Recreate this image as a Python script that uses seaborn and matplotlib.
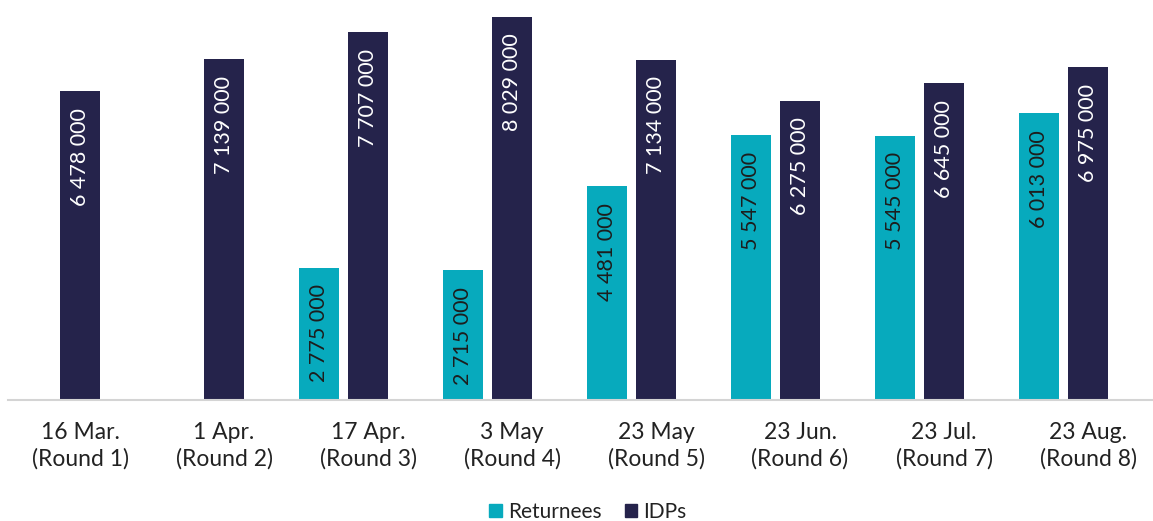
import numpy as np
import pandas as pd
import matplotlib
matplotlib.use("Agg")
import matplotlib.pyplot as plt
from matplotlib.patches import Patch
import seaborn as sns

# Values
rounds = ["16 Mar.\n(Round 1)", "1 Apr.\n(Round 2)", "17 Apr.\n(Round 3)", "3 May\n(Round 4)",
          "23 May\n(Round 5)", "23 Jun.\n(Round 6)", "23 Jul.\n(Round 7)", "23 Aug.\n(Round 8)"]
returnees = [np.nan, np.nan, 2775000, 2715000, 4481000, 5547000, 5545000, 6013000]
idps = [6478000, 7139000, 7707000, 8029000, 7134000, 6275000, 6645000, 6975000]

teal = "#07AABD"
navy = "#25234B"

# long table; a third, empty series keeps the original's spacing
df = pd.DataFrame({
    "round": rounds * 3,
    "series": ["Returnees"] * 8 + ["IDPs"] * 8 + ["_blank"] * 8,
    "value": returnees + idps + [0] * 8,
})

sns.set_style("white")
plt.rcParams["font.family"] = ["Lato", "DejaVu Sans"]

fig = plt.figure(figsize=(11.53, 5.21), dpi=100)
ax = fig.add_axes([8 / 1153, 121 / 521, 1152 / 1153, 400 / 521])

sns.barplot(data=df, x="round", y="value", hue="series",
            hue_order=["Returnees", "IDPs", "_blank"],
            palette=[teal, navy, "white"], saturation=1, width=1.02, gap=0.2,
            errorbar=None, legend=False, ax=ax, linewidth=0)

# value labels inside bar tops
for cont, txt_col in zip(ax.containers[:2], ["#1d1d1d", "white"]):
    for bar in cont:
        h = bar.get_height()
        if not np.isfinite(h) or h <= 0:
            continue
        ax.annotate(f"{int(h):,}".replace(",", " "),
                    (bar.get_x() + bar.get_width() / 2, h),
                    xytext=(0, -12), textcoords="offset points",
                    rotation=90, ha="center", va="top",
                    color=txt_col, fontsize=15.5)

ax.set_xlim(-0.5, 7.5)
ax.set_ylim(0, 400 / 47.7 * 1e6)
ax.set_xlabel("")
ax.set_ylabel("")
ax.set_yticks([])
ax.tick_params(axis="x", length=0, pad=16, labelsize=16.5, labelcolor="#222222")
for lbl in ax.get_xticklabels():
    lbl.set_linespacing(1.3)

for side in ["top", "right", "left"]:
    ax.spines[side].set_visible(False)
ax.spines["bottom"].set_color("#d4d4d4")
ax.spines["bottom"].set_linewidth(1.5)

handles = [Patch(color=teal, label="Returnees"), Patch(color=navy, label="IDPs")]
fig.legend(handles=handles, loc="lower center", bbox_to_anchor=(588 / 1153, -0.022),
           ncol=2, frameon=False, fontsize=15, handlelength=0.6, handleheight=0.6,
           handletextpad=0.3, columnspacing=1.1, borderpad=0, labelcolor="#222222")

fig.savefig("out.png", dpi=100)
